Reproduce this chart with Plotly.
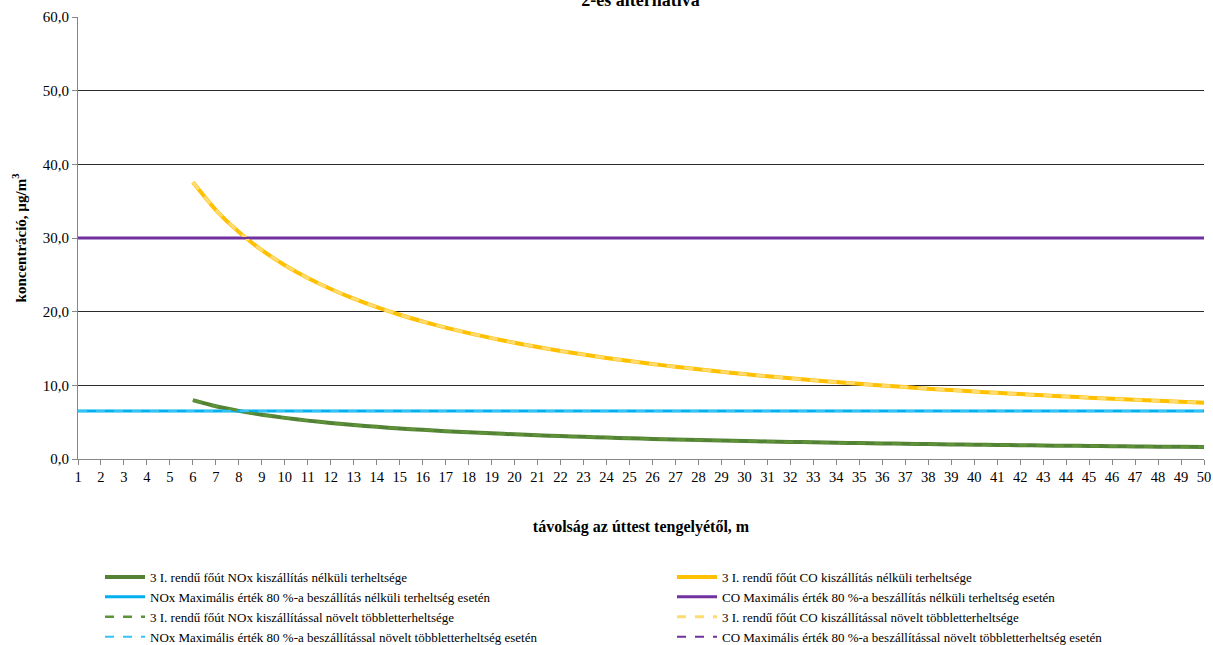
import plotly.graph_objects as go

# Distance from the road axis (m) and axis categories
categories = list(range(1, 51))
distances = list(range(6, 51))

# 3 I. rendű főút CO load without transport (µg/m3), distances 6..50 m
co_load = [37.56, 33.79, 30.80, 28.35, 26.31, 24.57, 23.07, 21.76, 20.61, 19.58,
           18.67, 17.84, 17.09, 16.41, 15.78, 15.20, 14.67, 14.18, 13.72, 13.30,
           12.90, 12.52, 12.17, 11.84, 11.53, 11.23, 10.95, 10.69, 10.44, 10.20,
           9.98, 9.76, 9.55, 9.35, 9.16, 8.98, 8.81, 8.64, 8.49, 8.33,
           8.18, 8.04, 7.90, 7.77, 7.64]

# 3 I. rendű főút NOx load without transport (µg/m3), distances 6..50 m
nox_load = [8.00, 7.16, 6.53, 6.01, 5.58, 5.21, 4.89, 4.61, 4.37, 4.15,
            3.96, 3.78, 3.62, 3.48, 3.35, 3.22, 3.11, 3.01, 2.91, 2.82,
            2.73, 2.65, 2.58, 2.51, 2.44, 2.38, 2.32, 2.27, 2.21, 2.16,
            2.12, 2.07, 2.02, 1.98, 1.94, 1.90, 1.87, 1.83, 1.80, 1.77,
            1.73, 1.70, 1.67, 1.65, 1.62]

# Loads with the added transport traffic (coincide with the base loads)
co_load_plus = list(co_load)
nox_load_plus = list(nox_load)

# 80 % of the maximum measured values
nox_limit = 6.5
co_limit = 30.0
nox_limit_line = [nox_limit for _ in categories]
co_limit_line = [co_limit for _ in categories]

y_ticks = [0, 10, 20, 30, 40, 50, 60]

SERIF = "Liberation Serif, Times New Roman, serif"

fig = go.Figure()


def add_line(x, y, name, color, width, dash, legend):
    fig.add_trace(go.Scatter(x=x, y=y, mode="lines", name=name, legend=legend,
                             line=dict(color=color, width=width, dash=dash,
                                       shape="spline", smoothing=0.6)))


# Solid series first, dashed series on top of them
add_line(distances, nox_load, "3 I. rendű főút NOx kiszállítás nélküli terheltsége",
         "#548235", 4, "solid", "legend")
add_line(categories, nox_limit_line, "NOx Maximális érték 80 %-a beszállítás nélküli terheltség esetén",
         "#00B0F0", 3, "solid", "legend")
add_line(distances, co_load, "3 I. rendű főút CO kiszállítás nélküli terheltsége",
         "#FFC000", 4, "solid", "legend2")
add_line(categories, co_limit_line, "CO Maximális érték 80 %-a beszállítás nélküli terheltség esetén",
         "#7030A0", 3, "solid", "legend2")
add_line(distances, nox_load_plus, "3 I. rendű főút NOx kiszállítással növelt többletterheltsége",
         "#5E9438", 2.5, "dash", "legend")
add_line(categories, nox_limit_line, "NOx Maximális érték 80 %-a beszállítással növelt többletterheltség esetén",
         "#33C3F5", 2, "dash", "legend")
add_line(distances, co_load_plus, "3 I. rendű főút CO kiszállítással növelt többletterheltsége",
         "#FFDB70", 3, "dash", "legend2")
add_line(categories, co_limit_line, "CO Maximális érték 80 %-a beszállítással növelt többletterheltség esetén",
         "#7030A0", 2, "dash", "legend2")

legend_style = dict(orientation="v", xref="container", yref="container",
                    y=1 - 562 / 645, xanchor="left", yanchor="top",
                    itemwidth=40, tracegroupgap=0, traceorder="normal",
                    font=dict(family=SERIF, size=13, color="#000000"),
                    bgcolor="rgba(0,0,0,0)")

fig.update_layout(
    width=1213, height=645,
    margin=dict(l=78, r=9, t=17, b=186, autoexpand=False),
    paper_bgcolor="white", plot_bgcolor="white",
    separators=", ",
    font=dict(family=SERIF, size=14, color="#000000"),
    title=dict(text="<b>2-es alternatíva</b>", x=0.528, xanchor="center",
               y=1.0, yref="container", yanchor="middle",
               font=dict(family=SERIF, size=18, color="#000000")),
    showlegend=True,
    legend=dict(legend_style, x=100 / 1213),
    legend2=dict(legend_style, x=672 / 1213),
    annotations=[
        dict(text="<b>koncentráció, µg/m<sup>3</sup></b>", textangle=-90,
             xref="paper", yref="paper", x=-0.052, y=0.5,
             xanchor="center", yanchor="middle", showarrow=False,
             font=dict(family=SERIF, size=15, color="#000000")),
    ],
)

fig.update_xaxes(
    range=[1, 50], tickmode="array", tickvals=categories,
    ticktext=[str(c) for c in categories],
    showgrid=False, zeroline=False,
    showline=True, linecolor="#868686", linewidth=1,
    ticks="outside", ticklen=5, tickcolor="#868686",
    tickfont=dict(family=SERIF, size=14.5, color="#000000"),
    title=dict(text="<b>távolság az úttest tengelyétől, m</b>", standoff=36,
               font=dict(family=SERIF, size=16, color="#000000")),
)

fig.update_yaxes(
    range=[0, 60], tickmode="array", tickvals=y_ticks, tickformat=".1f",
    showgrid=True, gridcolor="#2b2b2b", gridwidth=1, zeroline=False,
    showline=True, linecolor="#868686", linewidth=1,
    ticks="outside", ticklen=5, tickcolor="#868686",
    tickfont=dict(family=SERIF, size=15, color="#000000"),
)

fig.write_html("out.html")
